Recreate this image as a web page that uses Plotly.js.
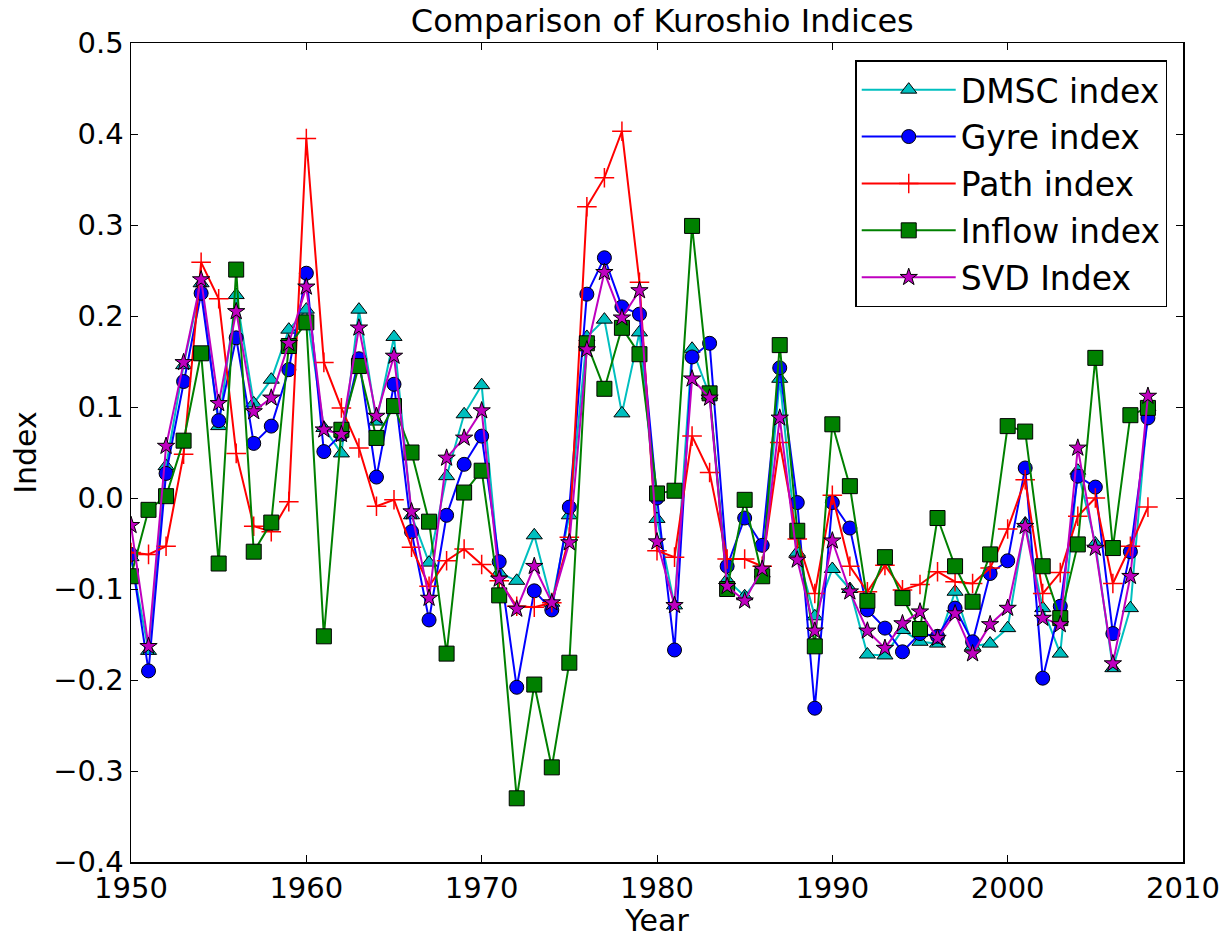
<!DOCTYPE html>
<html>
<head>
<meta charset="utf-8">
<script src="https://cdn.plot.ly/plotly-3.0.1.min.js"></script>
<style>html,body{margin:0;padding:0;background:#fff;}#chart{width:1229px;height:938px;}</style>
</head>
<body>
<div id="chart"></div>
<script>
const years = [];
for (let y = 1950; y <= 2008; y++) years.push(y);

const dmsc = [-0.065,-0.168,0.035,0.146,0.236,0.079,0.223,0.104,0.13,0.185,
  0.207,0.077,0.049,0.207,0.084,0.177,-0.019,-0.071,0.024,0.092,
  0.124,-0.082,-0.091,-0.041,-0.115,-0.019,0.177,0.196,0.093,0.182,
  -0.023,-0.118,0.164,0.113,-0.09,-0.108,-0.083,0.131,-0.06,-0.13,
  -0.078,-0.1,-0.172,-0.173,-0.145,-0.158,-0.16,-0.103,-0.163,-0.16,
  -0.143,-0.028,-0.121,-0.171,0.03,-0.05,-0.187,-0.121,0.1];

const gyre = [-0.062,-0.19,0.027,0.128,0.225,0.085,0.176,0.06,0.079,0.141,
  0.247,0.051,0.07,0.153,0.023,0.125,-0.037,-0.134,-0.019,0.037,
  0.068,-0.07,-0.208,-0.102,-0.123,-0.01,0.224,0.264,0.21,0.202,
  0.0,-0.167,0.155,0.17,-0.075,-0.022,-0.052,0.143,-0.005,-0.231,
  -0.005,-0.033,-0.123,-0.143,-0.169,-0.149,-0.152,-0.121,-0.158,-0.083,
  -0.069,0.033,-0.198,-0.119,0.024,0.012,-0.149,-0.059,0.088];

const path = [-0.06,-0.062,-0.053,0.048,0.259,0.219,0.049,-0.031,-0.037,-0.004,
  0.395,0.149,0.099,0.055,-0.009,-0.002,-0.054,-0.097,-0.069,-0.056,
  -0.073,-0.091,-0.119,-0.12,-0.115,-0.043,0.32,0.352,0.403,0.237,
  -0.058,-0.065,0.068,0.028,-0.067,-0.067,-0.075,0.061,-0.045,-0.105,
  0.003,-0.075,-0.103,-0.074,-0.101,-0.095,-0.081,-0.092,-0.094,-0.077,
  -0.034,0.02,-0.105,-0.082,-0.02,0.0,-0.094,-0.053,-0.01];

const inflow = [-0.086,-0.013,0.002,0.063,0.159,-0.072,0.251,-0.059,-0.027,0.167,
  0.193,-0.152,0.075,0.145,0.066,0.101,0.05,-0.026,-0.171,0.006,
  0.03,-0.107,-0.33,-0.205,-0.296,-0.181,0.17,0.12,0.187,0.158,
  0.005,0.008,0.299,0.115,-0.1,-0.002,-0.086,0.168,-0.036,-0.163,
  0.081,0.013,-0.113,-0.065,-0.11,-0.144,-0.022,-0.075,-0.114,-0.062,
  0.079,0.073,-0.075,-0.132,-0.051,0.154,-0.055,0.091,0.099];

const svd = [-0.03,-0.163,0.057,0.149,0.24,0.104,0.205,0.095,0.11,0.17,
  0.232,0.075,0.07,0.187,0.09,0.156,-0.015,-0.11,0.044,0.066,
  0.096,-0.089,-0.122,-0.075,-0.115,-0.049,0.163,0.248,0.198,0.228,
  -0.048,-0.118,0.131,0.11,-0.097,-0.113,-0.078,0.088,-0.068,-0.146,
  -0.047,-0.103,-0.146,-0.165,-0.138,-0.125,-0.154,-0.127,-0.171,-0.139,
  -0.121,-0.031,-0.132,-0.139,0.055,-0.055,-0.182,-0.086,0.112];

const names = ["DMSC index","Gyre index","Path index","Inflow index","SVD Index"];

const FONT = "DejaVu Sans, sans-serif";
const edge = {color: "#000000", width: 1};

const traces = [
  {x: years, y: dmsc, name: names[0], mode: "lines+markers", legendgroup: "a",
   line: {color: "#00BFBF", width: 2},
   marker: {symbol: "triangle-up", size: 14, color: "#00BFBF", line: edge}},
  {x: years, y: gyre, name: names[1], mode: "lines+markers", legendgroup: "b",
   line: {color: "#0000FF", width: 2},
   marker: {symbol: "circle", size: 14, color: "#0000FF", line: edge}},
  {x: years, y: path, name: names[2], mode: "lines+markers", legendgroup: "c",
   line: {color: "#FF0000", width: 2},
   marker: {symbol: "cross-thin", size: 14, color: "#FF0000", line: {color: "#FF0000", width: 1.5}}},
  {x: years, y: inflow, name: names[3], mode: "lines+markers", legendgroup: "d",
   line: {color: "#008000", width: 2},
   marker: {symbol: "square", size: 15, color: "#008000", line: edge}},
  {x: years, y: svd, name: names[4], mode: "lines+markers", legendgroup: "e",
   line: {color: "#BF00BF", width: 2},
   marker: {symbol: "star", size: 13, color: "#BF00BF", line: edge}}
];

const axisCommon = {
  showline: true, linecolor: "#000000", linewidth: 1.5, mirror: "allticks",
  ticks: "inside", ticklen: 7, tickwidth: 1, tickcolor: "#000000",
  showgrid: false, zeroline: false,
  tickfont: {family: FONT, size: 29, color: "#000000"}
};

const layout = {
  width: 1229, height: 938,
  paper_bgcolor: "#ffffff", plot_bgcolor: "#ffffff",
  margin: {l: 131, r: 46, t: 43, b: 76},
  title: {text: "Comparison of Kuroshio Indices", font: {family: FONT, size: 32, color: "#000000"},
          x: 0.505, xref: "paper", y: 0.978, yanchor: "middle"},
  xaxis: Object.assign({}, axisCommon, {
    range: [1950, 2010], dtick: 10, tick0: 1950,
    title: {text: "Year", font: {family: FONT, size: 30, color: "#000000"}, standoff: 2}
  }),
  yaxis: Object.assign({}, axisCommon, {
    range: [-0.4, 0.5], dtick: 0.1, tick0: 0, tickformat: ".1f",
    title: {text: "Index", font: {family: FONT, size: 30, color: "#000000"}, standoff: 8}
  }),
  showlegend: true,
  legend: {
    x: 0.985, y: 0.979, xanchor: "right", yanchor: "top",
    bordercolor: "#000000", borderwidth: 1.5, bgcolor: "#ffffff",
    font: {family: FONT, size: 33, color: "#000000"},
    traceorder: "grouped", tracegroupgap: 1, itemwidth: 94
  }
};

Plotly.newPlot("chart", traces, layout, {displayModeBar: false, staticPlot: true});
</script>
</body>
</html>
